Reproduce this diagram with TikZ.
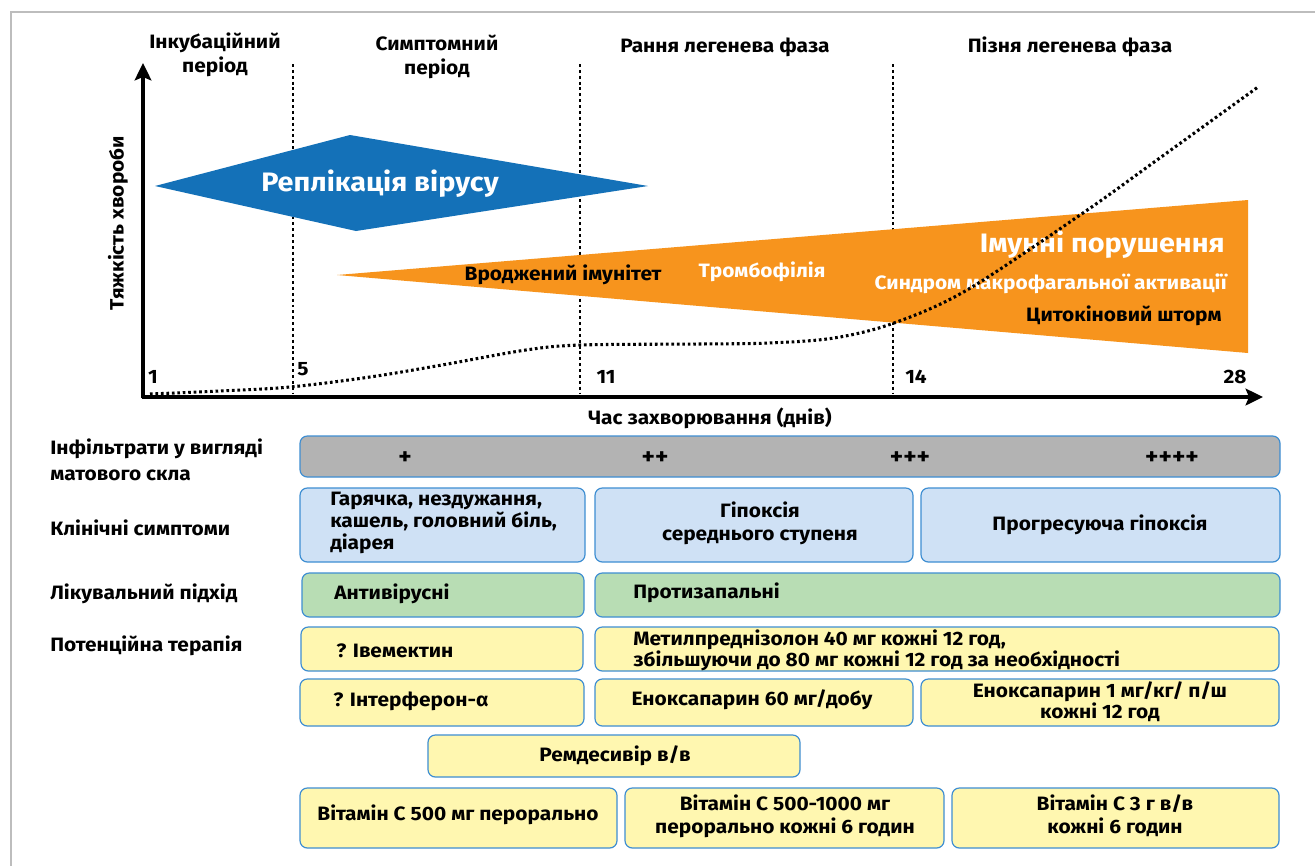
\documentclass[tikz,border=0pt]{standalone}
\usepackage{fontspec}
\setmainfont[FakeStretch=1.08]{Fira Sans}
\usetikzlibrary{arrows.meta,fit}
\definecolor{blueD}{HTML}{1471B8}
\definecolor{orangeD}{HTML}{F7941D}
\definecolor{grayBar}{HTML}{B3B3B3}
\definecolor{blueBox}{HTML}{CFE1F5}
\definecolor{greenBox}{HTML}{B8DDB4}
\definecolor{yellowBox}{HTML}{FFF7B0}
\definecolor{boxBorder}{HTML}{3E8ED2}
\definecolor{frameGray}{HTML}{BDBDBD}
\tikzset{
  rbox/.style={draw=boxBorder, line width=0.9pt, rounded corners=5.5pt, inner sep=0pt},
  txt/.style={font=\bfseries\fontsize{14.5}{17}\selectfont, inner sep=0pt, text=black},
  plus/.style={font=\bfseries\fontsize{17.5}{20}\selectfont, inner sep=0pt, text=black},
  hdr/.style={font=\bfseries\fontsize{14.5}{18}\selectfont, inner sep=0pt, align=center},
  big/.style={font=\bfseries\fontsize{20}{24}\selectfont, inner sep=0pt, text=white},
  axisline/.style={line width=3pt, -{Stealth[length=13pt,width=12.5pt,inset=2.5pt]}},
  vdots/.style={line width=0.8pt, dash pattern=on 2.2pt off 2.2pt},
  curvedots/.style={line width=2.3pt, dash pattern=on 2pt off 2.1pt},
}
\newcommand\bx[6]{\node[rbox, fill=#6, fit={(#2,#3) (#4,#5)}] (#1) {};}
\begin{document}
\begin{tikzpicture}[x=0.75pt,y=-0.75pt]
\useasboundingbox (0,0) rectangle (1315,865);
\fill[white] (0,0) rectangle (1315,865);
% frame
\draw[frameGray, line width=1.5pt] (11,866) -- (11,12) -- (1316,12);

% phases
\node[hdr] (h1) at (215,54.5) {Інкубаційний\\період};
\node[hdr] (h2) at (437,57) {Симптомний\\період};
\node[hdr] (h3) at (725,47) {Рання легенева фаза};
\node[hdr] (h4) at (1070,47) {Пізня легенева фаза};

% dotted separators
\coordinate (v1t) at (293,64); \coordinate (v1b) at (293,394);
\coordinate (v2t) at (580,64); \coordinate (v2b) at (580,394);
\coordinate (v3t) at (893,64); \coordinate (v3b) at (893,394);
\draw[vdots] (v1t) -- (v1b);
\draw[vdots] (v2t) -- (v2b);
\draw[vdots] (v3t) -- (v3b);

% blue diamond
\fill[blueD] (155,186) -- (350,135) -- (648,186) -- (356,231) -- cycle;
\node[big] (rep) at (380,184) {Реплікація вірусу};

% orange wedge
\fill[orangeD] (337,275) -- (1248,200) -- (1248,353) -- cycle;
\node[txt] (vi) at (563,275) {Вроджений імунітет};
\node[txt, text=white] (tr) at (762,272) {Тромбофілія};
\node[big, anchor=east] (imp) at (1225,245) {Імунні порушення};
\node[txt, anchor=east, text=white] (sma) at (1227,284) {Синдром макрофагальної активації};
\node[txt, anchor=east] (cs) at (1222,316) {Цитокіновий шторм};

% severity curve
\draw[curvedots] plot[smooth, tension=0.55] coordinates {(150,394) (220,391) (290,387) (370,377) (442,365) (526,350) (581,345) (700,344) (769,343) (834,338) (894,323) (967,290) (1083,213) (1157,160) (1258,87)};

% axes
\coordinate (O) at (143,397);
\coordinate (Ytip) at (143,63);
\coordinate (Xtip) at (1263,397);
\draw[axisline] ([yshift=-1.1pt]O) -- (Ytip);
\draw[axisline] ([xshift=-1.1pt]O) -- (Xtip);
\node[txt, rotate=90] (ylab) at (118,223) {Тяжкість хвороби};
\node[txt] (xlab) at (710,418) {Час захворювання (днів)};
\node[txt] (d1) at (153,377) {1};
\node[txt] (d5) at (303,369) {5};
\node[txt] (d11) at (606,377) {11};
\node[txt] (d14) at (916,377) {14};
\node[txt] (d28) at (1235,377) {28};

% row labels
\node[txt, anchor=west, align=left, font=\bfseries\fontsize{14.5}{19.5}\selectfont] (l1) at (50,460) {Інфільтрати у вигляді\\матового скла};
\node[txt, anchor=west] (l2) at (50,528) {Клінічні симптоми};
\node[txt, anchor=west] (l3) at (50,594) {Лікувальний підхід};
\node[txt, anchor=west] (l4) at (50,646) {Потенційна терапія};

% ground-glass bar
\bx{gg}{300}{436}{1280}{477}{grayBar}
\node[plus] (p1) at (405,458) {+};
\node[plus] (p2) at (655,458) {++};
\node[plus] (p3) at (910,458) {+++};
\node[plus] (p4) at (1172,458) {++++};

% clinical symptoms
\bx{cs1}{300}{488}{585}{562}{blueBox}
\bx{cs2}{595}{488}{913}{562}{blueBox}
\bx{cs3}{921}{488}{1280}{562}{blueBox}
\node[txt, anchor=west, align=left, font=\bfseries\fontsize{14.5}{16.5}\selectfont] (cst1) at (330,523) {Гарячка, нездужання,\\кашель, головний біль,\\діарея};
\node[txt, align=center] (cst2) at (760,523) {Гіпоксія\\середнього ступеня};
\node[txt] (cst3) at (1100,525) {Прогресуюча гіпоксія};

% treatment approach
\bx{ta1}{302}{573}{584}{617}{greenBox}
\bx{ta2}{595}{573}{1280}{617}{greenBox}
\node[txt, anchor=west] (tat1) at (334,594) {Антивірусні};
\node[txt, anchor=west] (tat2) at (633,593) {Протизапальні};

% potential therapy
\bx{pt1}{301}{627}{583}{671}{yellowBox}
\bx{pt2}{595}{627}{1279}{671}{yellowBox}
\node[txt, anchor=west] (ptt1) at (336,651) {? Івемектин};
\node[txt, anchor=west, align=left, font=\bfseries\fontsize{14.5}{15.5}\selectfont] (ptt2) at (633,650) {Метилпреднізолон 40 мг кожні 12 год,\\збільшуючи до 80 мг кожні 12 год за необхідності};

\bx{pt3}{300}{679}{584}{726}{yellowBox}
\bx{pt4}{595}{679}{913}{726}{yellowBox}
\bx{pt5}{921}{679}{1279}{726}{yellowBox}
\node[txt, anchor=west] (ptt3) at (333,701) {? Інтерферон-α};
\node[txt] (ptt4) at (752,700) {Еноксапарин 60 мг/добу};
\node[txt, align=center, font=\bfseries\fontsize{14.5}{15.5}\selectfont] (ptt5) at (1100,702) {Еноксапарин 1 мг/кг/ п/ш\\кожні 12 год};

\bx{pt6}{428}{735}{800}{777}{yellowBox}
\node[txt] (ptt6) at (615,756) {Ремдесивір в/в};

\bx{vc1}{300}{788}{617}{848}{yellowBox}
\bx{vc2}{625}{788}{944}{848}{yellowBox}
\bx{vc3}{952}{788}{1279}{848}{yellowBox}
\node[txt] (vct1) at (458,815) {Вітамін С 500 мг перорально};
\node[txt, align=center] (vct2) at (785,816) {Вітамін С 500-1000 мг\\перорально кожні 6 годин};
\node[txt, align=center] (vct3) at (1115,816) {Вітамін С 3 г в/в\\кожні 6 годин};
\end{tikzpicture}
\end{document}
